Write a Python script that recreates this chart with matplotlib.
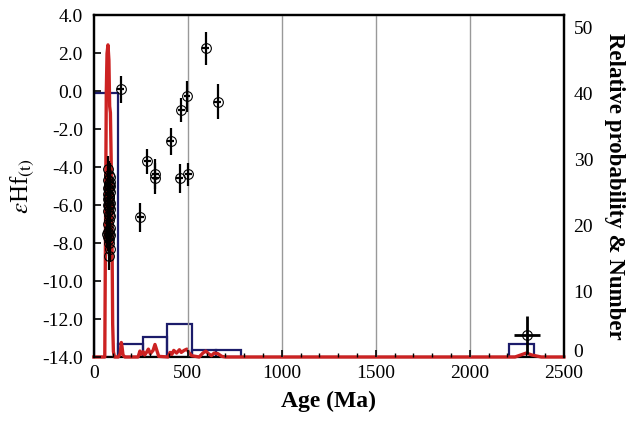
import matplotlib
matplotlib.use("Agg")
import matplotlib.pyplot as plt
import matplotlib.transforms as mtransforms
from matplotlib.ticker import MultipleLocator

plt.rcParams['font.family'] = ['Liberation Serif', 'DejaVu Serif']
plt.rcParams['mathtext.fontset'] = 'stix'

# zircon Hf data: age (Ma), epsilon Hf(t), errors
cluster_age = [76, 80, 84, 74, 81, 86, 73, 79, 88, 77, 83, 80, 75, 82, 87, 78, 80,
               85, 74, 81, 88, 79, 76, 84, 82, 73, 80, 86, 77, 83, 80, 84, 78, 81,
               75, 72, 85, 79]
cluster_ehf = [-4.1, -4.4, -4.5, -4.7, -4.9, -5.0, -5.1, -5.2, -5.3, -5.4, -5.5,
               -5.6, -5.7, -5.8, -5.9, -6.0, -6.1, -6.2, -6.3, -6.5, -6.6, -6.8,
               -7.0, -7.2, -7.3, -7.4, -7.5, -7.6, -7.7, -7.8, -8.0, -8.3, -8.7,
               -5.0, -6.0, -7.5, -4.8, -5.6]

old_age = [142, 248, 284, 326, 326, 408, 457, 465, 496, 503, 594, 658]
old_ehf = [0.1, -6.65, -3.7, -4.35, -4.6, -2.65, -4.6, -1.0, -0.28, -4.37, 2.25, -0.55]
old_err = [0.7, 0.75, 0.65, 0.8, 0.8, 0.7, 0.75, 0.65, 0.8, 0.6, 0.85, 0.9]

paleo_age = [2305]
paleo_ehf = [-12.85]
paleo_xerr = [70]
paleo_yerr = [1.0]

# histogram of ages (bin width 130 Ma)
bin_left = [0, 130, 260, 390, 520, 650, 2210]
bin_count = [40, 2, 3, 5, 1, 1, 2]
bin_width = 130

# relative probability curve
prob_age = [0, 58, 62, 66, 70, 75, 80, 84, 88, 92, 96, 100, 104, 110, 130, 140,
            146, 150, 155, 165, 235, 245, 252, 262, 270, 280, 290, 300, 315, 325,
            335, 345, 395, 405, 415, 425, 440, 455, 465, 480, 495, 505, 520, 560,
            580, 595, 610, 625, 640, 660, 680, 700, 2240, 2280, 2300, 2330, 2380, 2500]
prob_val = [0, 0, 20, 40, 46, 47.3, 45, 38, 37, 30, 20, 5, 0.8, 0, 0, 0.5,
            2.2, 1.5, 0.3, 0, 0, 0.9, 0.4, 0.8, 0.3, 0.7, 1.2, 0.5, 1.0, 1.9,
            1.0, 0.1, 0, 0.7, 0.4, 1.0, 0.6, 1.1, 0.7, 1.0, 1.2, 0.7, 0.2, 0,
            0.6, 0.9, 0.5, 0.2, 0.6, 0.5, 0.1, 0, 0, 0.4, 0.6, 0.3, 0, 0]

fig = plt.figure(figsize=(6.3, 4.21), dpi=100)
ax = fig.add_axes([0.149, 0.152, 0.746, 0.812])
ax2 = ax.twinx()
ax.set_zorder(ax2.get_zorder() + 1)
ax.patch.set_visible(False)

# histogram + probability on the right axis
ax2.bar(bin_left, bin_count, width=bin_width, align='edge', fill=False,
        edgecolor='#1c1c6a', linewidth=1.6)
ax2.plot(prob_age, prob_val, color='#cc2222', linewidth=2.4,
         solid_joinstyle='round', clip_on=False, zorder=3)
ax2.set_ylim(0, 51.8)
ax2.set_yticks([0, 10, 20, 30, 40, 50])
ax2.tick_params(axis='y', direction='in', length=0, labelsize=14, pad=7)
ax2.set_ylabel('Relative probability & Number', fontsize=16.5, fontweight='bold',
               rotation=270, labelpad=23)
# nudge the right-hand "0" up a little so it clears the "2500"
zero_lab = ax2.get_yticklabels()[0]
zero_lab.set_transform(zero_lab.get_transform() +
                       mtransforms.ScaledTranslation(0, 5 / 72, fig.dpi_scale_trans))

# grid lines
for g in [500, 1000, 1500, 2000]:
    ax.axvline(g, color='#999999', linewidth=1.0, zorder=0)

# Hf data with error bars
ax.errorbar(cluster_age, cluster_ehf, yerr=0.7, xerr=4, fmt='o', mfc='none',
            mec='black', ms=7, mew=0.8, ecolor='black', elinewidth=1.6, capsize=0)
ax.errorbar(old_age, old_ehf, yerr=old_err, xerr=18, fmt='o', mfc='none',
            mec='black', ms=7, mew=0.8, ecolor='black', elinewidth=1.6, capsize=0)
ax.errorbar(paleo_age, paleo_ehf, yerr=paleo_yerr, xerr=paleo_xerr, fmt='o',
            mfc='none', mec='black', ms=7, mew=0.8, ecolor='black',
            elinewidth=2.0, capsize=0)

ax.set_xlim(0, 2500)
ax.set_ylim(-14, 4)
ax.set_xticks([0, 500, 1000, 1500, 2000, 2500])
ax.xaxis.set_minor_locator(MultipleLocator(100))
ax.set_yticks([4, 2, 0, -2, -4, -6, -8, -10, -12, -14])
ax.set_yticklabels(['%.1f' % v for v in [4, 2, 0, -2, -4, -6, -8, -10, -12, -14]])
ax.tick_params(axis='both', which='major', direction='in', length=5, width=1.2,
               labelsize=14)
ax.tick_params(axis='y', pad=8)
ax.tick_params(axis='x', which='minor', direction='in', length=3, width=1.0)
ax.tick_params(axis='x', pad=6)

ax.set_xlabel('Age (Ma)', fontsize=17, fontweight='bold', labelpad=6)
ax.set_ylabel(r'$\varepsilon$Hf$_{\rm (t)}$', fontsize=18, labelpad=4)

for a in (ax, ax2):
    for s in a.spines.values():
        s.set_linewidth(1.6)
        s.set_color('black')
ax.spines['bottom'].set_visible(False)

fig.savefig('out.png', dpi=100)
